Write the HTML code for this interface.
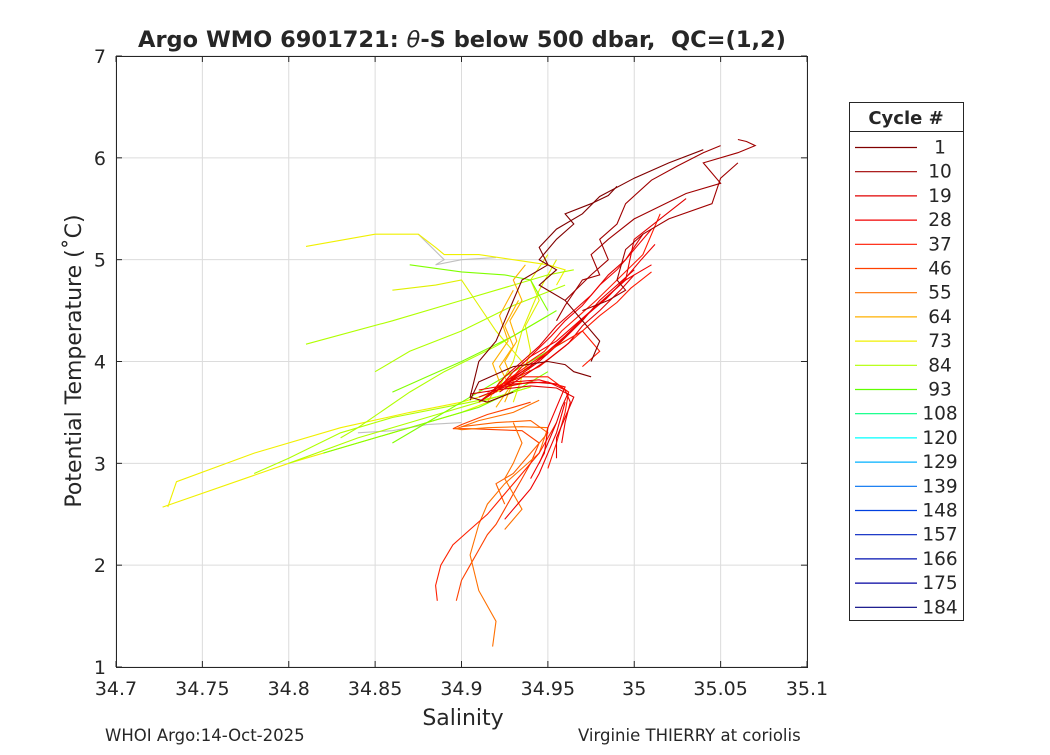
<!DOCTYPE html>
<html><head><meta charset="utf-8"><style>
body{margin:0;background:#fff}
svg text{font-family:"DejaVu Sans","Liberation Sans",sans-serif;fill:#262626}
</style></head><body>
<svg id="chart" width="1050" height="750" xmlns="http://www.w3.org/2000/svg">
<rect x="0" y="0" width="1050" height="750" fill="#fff"/>
<g id="grid"></g>
<g id="lines"></g>
<g id="axes"></g>
<text x="462" y="47" text-anchor="middle" font-size="22.5" font-weight="bold">Argo WMO 6901721: <tspan font-style="italic" font-weight="normal">θ</tspan>-S below 500 dbar,&#160; QC=(1,2)</text>
<text x="463" y="725" text-anchor="middle" font-size="22">Salinity</text>
<text transform="translate(81,361) rotate(-90)" text-anchor="middle" font-size="22">Potential Temperature (˚C)</text>
<text x="105" y="741" font-size="16.5">WHOI Argo:14-Oct-2025</text>
<text x="578" y="741" font-size="16.5">Virginie THIERRY at coriolis</text>
<g id="legend"></g>
</svg>
<script>
const xTicks=[34.7,34.75,34.8,34.85,34.9,34.95,35,35.05,35.1];
const xTickLabels=["34.7","34.75","34.8","34.85","34.9","34.95","35","35.05","35.1"];
const yTicks=[1,2,3,4,5,6,7];
const yTickLabels=["1","2","3","4","5","6","7"];
const legendCycles=["1","10","19","28","37","46","55","64","73","84","93","108","120","129","139","148","157","166","175","184"];
const legendColors=["#800000","#a00000","#e00000","#f00000","#ff1800","#ff4000","#ff7000","#ffb000","#f0f000","#b0ff00","#60ff00","#00ff80","#00ffff","#00b0ff","#0070f0","#0040e0","#0020c0","#0010b0","#0000a0","#000080"];
const profiles=[
{c:"#c0c0c0",s:[34.875,34.89,34.885,34.9,34.92],t:[5.25,5.0,4.95,5.0,5.02]},
{c:"#c0c0c0",s:[34.84,34.86,34.88,34.9],t:[3.3,3.32,3.38,3.4]},
{c:"#f0f000",s:[34.81,34.85,34.875,34.885,34.89,34.91,34.93,34.95,34.96,34.955],t:[5.13,5.25,5.25,5.12,5.05,5.05,5.0,4.95,4.9,4.75]},
{c:"#f0f000",s:[34.73,34.735,34.78,34.83,34.87,34.9,34.92,34.935],t:[2.57,2.82,3.1,3.35,3.5,3.6,3.7,3.8]},
{c:"#f0f000",s:[34.727,34.8,34.86,34.9,34.93],t:[2.57,3.0,3.3,3.5,3.7]},
{c:"#e0f000",s:[34.86,34.885,34.9,34.91,34.92,34.93,34.94],t:[4.7,4.75,4.8,4.55,4.3,4.1,3.9]},
{c:"#e0f000",s:[34.92,34.93,34.935,34.94,34.945,34.95,34.955],t:[3.7,4.0,4.3,4.5,4.7,4.85,5.0]},
{c:"#e0f000",s:[34.93,34.935,34.94,34.937,34.945,34.94,34.95],t:[3.6,3.85,4.1,4.35,4.6,4.8,5.05]},
{c:"#b0ff00",s:[34.81,34.86,34.9,34.93,34.95,34.965],t:[4.17,4.4,4.6,4.75,4.85,4.9]},
{c:"#b0ff00",s:[34.78,34.8,34.83,34.86,34.89,34.92,34.94],t:[2.9,3.05,3.3,3.45,3.55,3.65,3.75]},
{c:"#b0ff00",s:[34.83,34.84,34.87,34.89,34.92,34.95],t:[3.25,3.35,3.7,3.9,4.15,4.45]},
{c:"#b0ff00",s:[34.85,34.87,34.9,34.93,34.96],t:[3.9,4.1,4.3,4.55,4.75]},
{c:"#b0ff00",s:[34.8,34.84,34.88,34.91,34.94],t:[3.0,3.25,3.45,3.6,3.75]},
{c:"#80ff00",s:[34.82,34.85,34.88,34.91,34.935,34.95],t:[3.1,3.25,3.4,3.55,3.75,3.9]},
{c:"#80ff00",s:[34.86,34.88,34.9,34.92,34.94,34.96],t:[3.2,3.4,3.6,3.8,4.0,4.2]},
{c:"#80ff00",s:[34.86,34.88,34.9,34.93,34.955],t:[3.7,3.85,4.0,4.25,4.5]},
{c:"#80ff00",s:[34.87,34.9,34.925,34.94,34.95],t:[4.95,4.88,4.85,4.8,4.5]},
{c:"#ffb000",s:[34.925,34.93,34.925,34.932,34.928,34.935,34.93,34.937],t:[3.6,3.8,4.0,4.2,4.4,4.6,4.8,4.95]},
{c:"#ffb000",s:[34.92,34.928,34.922,34.93,34.925,34.933],t:[3.55,3.75,3.95,4.15,4.35,4.6]},
{c:"#ffb000",s:[34.915,34.922,34.918,34.927,34.922,34.93],t:[3.6,3.8,3.98,4.2,4.45,4.7]},
{c:"#ff4000",s:[34.94,34.93,34.915,34.9,34.895,34.905,34.92,34.935,34.945,34.94,34.935,34.93,34.925,34.92,34.915,34.91,34.905,34.9,34.897],t:[3.6,3.55,3.48,3.38,3.34,3.34,3.33,3.32,3.2,3.0,2.85,2.7,2.55,2.4,2.3,2.15,2.0,1.85,1.65]},
{c:"#ff7000",s:[34.945,34.93,34.91,34.897,34.9,34.915,34.935,34.95,34.945,34.935,34.925,34.915,34.91,34.905,34.91,34.92,34.918],t:[3.62,3.5,3.42,3.34,3.33,3.35,3.36,3.35,3.1,2.95,2.8,2.6,2.4,2.1,1.75,1.45,1.2]},
{c:"#ff7000",s:[34.93,34.935,34.93,34.925,34.93,34.935,34.925],t:[3.4,3.2,3.0,2.85,2.7,2.55,2.35]},
{c:"#ff6000",s:[34.9,34.92,34.94,34.95,34.94,34.93,34.92,34.925],t:[3.36,3.4,3.42,3.3,3.1,2.9,2.8,2.6]},
{c:"#ff2000",s:[34.955,34.945,34.935,34.925,34.915,34.905,34.895,34.888,34.885,34.886],t:[3.4,3.1,2.9,2.7,2.5,2.35,2.2,2.0,1.8,1.65]},
{c:"#f00000",s:[34.96,34.955,34.95,34.945,34.94,34.935,34.93,34.925],t:[3.6,3.3,3.1,2.9,2.75,2.65,2.55,2.45]},
{c:"#e00000",s:[34.91,34.925,34.94,34.955,34.962,34.958,34.955,34.95,34.945],t:[3.65,3.75,3.8,3.78,3.7,3.55,3.4,3.2,3.0]},
{c:"#f00000",s:[34.915,34.93,34.945,34.96,34.955,34.95,34.948,34.94],t:[3.7,3.8,3.82,3.75,3.55,3.35,3.1,2.85]},
{c:"#ff1800",s:[34.92,34.935,34.95,34.962,34.96,34.955,34.95],t:[3.75,3.85,3.85,3.7,3.5,3.2,2.95]},
{c:"#e00000",s:[34.905,34.92,34.94,34.955,34.965,34.96,34.955,34.955],t:[3.68,3.72,3.76,3.74,3.65,3.45,3.25,3.05]},
{c:"#f00000",s:[34.91,34.93,34.95,34.96,34.963,34.96,34.958],t:[3.72,3.78,3.8,3.72,3.6,3.4,3.2]},
{c:"#e00000",s:[34.915,34.925,34.935,34.945,34.955,34.965,34.975,34.985,34.995,35.005],t:[3.65,3.85,4.0,4.15,4.35,4.5,4.65,4.85,5.0,5.25]},
{c:"#f00000",s:[34.92,34.93,34.94,34.952,34.96,34.97,34.98,34.99,35.0,35.01],t:[3.7,3.9,4.05,4.25,4.4,4.55,4.75,4.9,5.1,5.3]},
{c:"#ff1800",s:[34.925,34.935,34.948,34.958,34.968,34.978,34.99,35.005,35.015],t:[3.75,3.95,4.1,4.3,4.45,4.6,4.8,5.05,5.45]},
{c:"#e00000",s:[34.91,34.925,34.94,34.95,34.96,34.972,34.982,34.995,35.0,35.03],t:[3.6,3.8,3.95,4.1,4.25,4.45,4.6,4.8,5.2,5.6]},
{c:"#f00000",s:[34.93,34.94,34.955,34.965,34.975,34.985,34.995,35.01],t:[3.9,4.05,4.2,4.35,4.5,4.65,4.8,4.95]},
{c:"#ff1800",s:[34.92,34.945,34.96,34.97,34.975,34.98,34.97],t:[3.75,3.95,4.15,4.3,4.2,4.1,3.95]},
{c:"#e00000",s:[34.912,34.93,34.945,34.958,34.97,34.98,34.99,35.0],t:[3.62,3.82,4.0,4.2,4.4,4.6,4.75,4.9]},
{c:"#f00000",s:[34.918,34.935,34.95,34.962,34.972,34.984,34.994,35.004,35.012],t:[3.68,3.9,4.08,4.28,4.45,4.62,4.8,5.0,5.15]},
{c:"#e00000",s:[34.922,34.938,34.95,34.962,34.97,34.98,34.992,35.0],t:[3.7,3.88,4.02,4.18,4.35,4.5,4.7,4.85]},
{c:"#ff1800",s:[34.925,34.94,34.955,34.97,34.98,34.99,34.998,35.01],t:[3.8,3.98,4.15,4.3,4.45,4.58,4.72,4.88]},
{c:"#800000",s:[35.04,35.02,35.0,34.98,34.97,34.955,34.945,34.95,34.935,34.93,34.925,34.92,34.91,34.905,34.915,34.93],t:[6.08,5.95,5.8,5.62,5.45,5.3,5.12,4.95,4.8,4.6,4.4,4.2,4.0,3.65,3.6,3.7]},
{c:"#800000",s:[34.99,34.985,34.975,34.96,34.965,34.955,34.945,34.955,34.945,34.96,34.98,34.975],t:[5.72,5.63,5.55,5.45,5.35,5.2,5.0,4.9,4.75,4.6,4.2,4.0]},
{c:"#800000",s:[34.905,34.91,34.93,34.95,34.96,34.965,34.975],t:[3.62,3.8,3.95,4.0,3.97,3.9,3.85]},
{c:"#a00000",s:[35.06,35.065,35.07,35.06,35.04,35.05,35.03,35.0,34.985,34.975,34.98,34.97,34.96,34.955],t:[6.18,6.16,6.12,6.05,5.95,5.75,5.65,5.4,5.2,5.05,4.85,4.8,4.55,4.4]},
{c:"#a00000",s:[35.05,35.04,35.025,35.01,34.995,34.99,34.98,34.985,34.975,34.96],t:[6.12,6.05,5.92,5.78,5.55,5.35,5.2,5.0,4.85,4.6]},
{c:"#a00000",s:[35.06,35.05,35.045,35.02,35.005,34.995,34.99,34.995,34.985,34.97],t:[5.95,5.8,5.55,5.4,5.25,5.1,4.8,4.7,4.6,4.5]}
];
const NS="http://www.w3.org/2000/svg";
const X0=116,X1=807,Y0=667,Y1=56;
function xs(v){return X0+(v-34.7)/(0.4)*(X1-X0);}
function ys(v){return Y0-(v-1)/6*(Y0-Y1);}
function mk(tag,attrs,parent){const e=document.createElementNS(NS,tag);for(const k in attrs)e.setAttribute(k,attrs[k]);parent.appendChild(e);return e;}
const grid=document.getElementById('grid'),axes=document.getElementById('axes'),lines=document.getElementById('lines'),leg=document.getElementById('legend');
mk('rect',{x:X0,y:Y1,width:X1-X0,height:Y0-Y1,fill:'#fff'},grid);
xTicks.forEach((v,i)=>{const x=xs(v);
 const g=mk('line',{x1:x,x2:x,y1:Y1,y2:Y0,stroke:'#dcdcdc','stroke-width':1},grid);
 
 
 mk('line',{x1:x,x2:x,y1:Y0,y2:Y0-6,stroke:'#262626'},axes);mk('line',{x1:x,x2:x,y1:Y1,y2:Y1+6,stroke:'#262626'},axes);
 const t=mk('text',{x:x,y:Y0+28,'text-anchor':'middle','font-size':19},axes);t.textContent=xTickLabels[i];
 
 });
yTicks.forEach((v,i)=>{const y=ys(v);
 const g=mk('line',{x1:X0,x2:X1,y1:y,y2:y,stroke:'#dcdcdc','stroke-width':1},grid);
 
 
 mk('line',{x1:X0,x2:X0+6,y1:y,y2:y,stroke:'#262626'},axes);mk('line',{x1:X1,x2:X1-6,y1:y,y2:y,stroke:'#262626'},axes);
 const t=mk('text',{x:X0-10,y:y+7,'text-anchor':'end','font-size':19},axes);t.textContent=yTickLabels[i];
 
 });
mk('rect',{x:X0+0.5,y:Y1+0.5,width:X1-X0,height:Y0-Y1,fill:'none',stroke:'#262626'},axes);
profiles.forEach(p=>{const pts=p.s.map((s,i)=>xs(s).toFixed(1)+','+ys(p.t[i]).toFixed(1)).join(' ');
 const l=mk('polyline',{points:pts,fill:'none',stroke:p.c,'stroke-width':1.1},lines);
 
 });
mk('rect',{x:849.5,y:102.5,width:114,height:518,fill:'#fff',stroke:'#262626'},leg);
mk('line',{x1:849.5,x2:963.5,y1:131.5,y2:131.5,stroke:'#262626'},leg);
const lt=mk('text',{x:906,y:124,'text-anchor':'middle','font-size':18,'font-weight':'bold'},leg);lt.textContent='Cycle #';


legendCycles.forEach((c,i)=>{const y=147+i*24.2;
 const l=mk('line',{x1:855,x2:917,y1:y+0.5,y2:y+0.5,stroke:legendColors[i],'stroke-width':1.2},leg);
 
 
 const t=mk('text',{x:940,y:y+6.5,'text-anchor':'middle','font-size':18.5},leg);t.textContent=c;
 
 });
</script>
</body></html>
